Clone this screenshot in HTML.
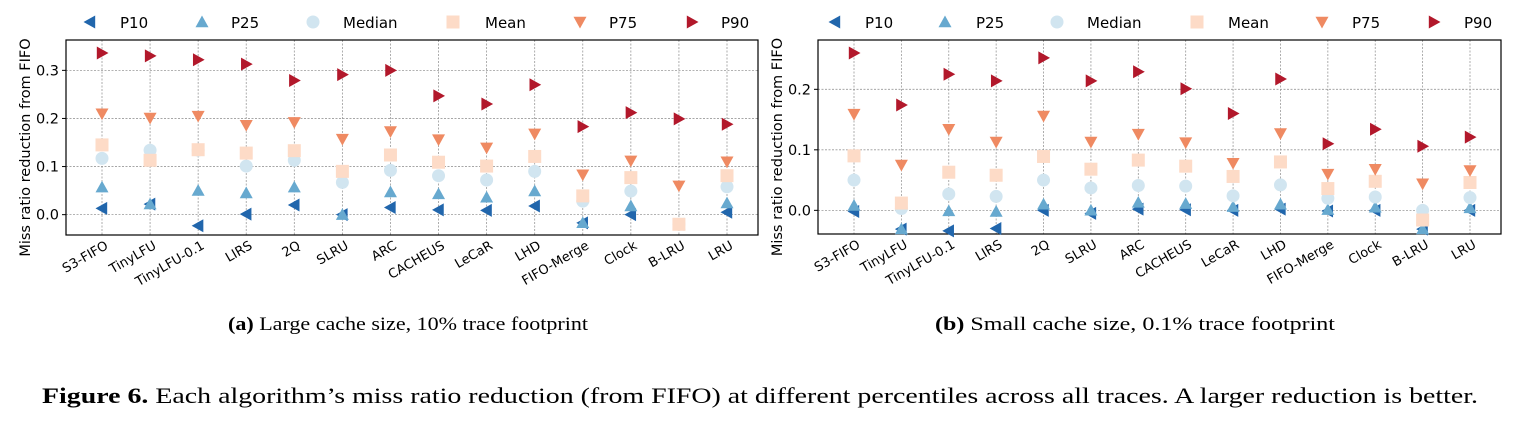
<!DOCTYPE html>
<html><head><meta charset="utf-8"><style>
body{margin:0;background:#fff;width:1524px;height:422px;overflow:hidden}
svg{display:block}
</style></head><body>
<svg id="fig" width="1524" height="422" xmlns="http://www.w3.org/2000/svg">
<text x="228" y="330" font-size="19" textLength="360" lengthAdjust="spacingAndGlyphs" font-family="Liberation Serif,serif"><tspan font-weight="bold">(a)</tspan> Large cache size, 10% trace footprint</text>
<text x="935" y="330" font-size="19" textLength="400" lengthAdjust="spacingAndGlyphs" font-family="Liberation Serif,serif"><tspan font-weight="bold">(b)</tspan> Small cache size, 0.1% trace footprint</text>
<text x="42" y="403" font-size="22" textLength="1436" lengthAdjust="spacingAndGlyphs" font-family="Liberation Serif,serif"><tspan font-weight="bold">Figure 6.</tspan> Each algorithm’s miss ratio reduction (from FIFO) at different percentiles across all traces. A larger reduction is better.</text>
</svg>
<script>
const categories=["S3-FIFO","TinyLFU","TinyLFU-0.1","LIRS","2Q","SLRU","ARC","CACHEUS","LeCaR","LHD","FIFO-Merge","Clock","B-LRU","LRU"];
const seriesNames=["P10","P25","Median","Mean","P75","P90"];
const aP10=[0.013,0.022,-0.023,0.001,0.020,0.000,0.015,0.010,0.009,0.018,-0.017,0.000,-0.020,0.005];
const aP25=[0.057,0.022,0.050,0.045,0.057,0.000,0.047,0.043,0.036,0.049,-0.017,0.018,-0.020,0.024];
const aMedian=[0.117,0.134,0.134,0.101,0.113,0.067,0.092,0.081,0.072,0.090,0.028,0.049,-0.020,0.058];
const aMean=[0.145,0.113,0.135,0.128,0.133,0.090,0.124,0.109,0.101,0.121,0.039,0.077,-0.020,0.081];
const aP75=[0.210,0.201,0.205,0.186,0.192,0.157,0.173,0.156,0.139,0.168,0.083,0.112,0.060,0.110];
const aP90=[0.336,0.330,0.322,0.313,0.279,0.291,0.300,0.247,0.230,0.270,0.183,0.212,0.199,0.188];
const bP10=[-0.002,-0.031,-0.034,-0.030,0.000,-0.005,0.002,0.001,0.000,0.002,-0.001,0.000,-0.031,0.000];
const bP25=[0.008,-0.031,-0.001,-0.002,0.010,0.000,0.013,0.011,0.006,0.010,0.001,0.005,-0.031,0.004];
const bMedian=[0.050,0.003,0.027,0.023,0.050,0.037,0.041,0.040,0.024,0.042,0.020,0.022,0.000,0.021];
const bMean=[0.090,0.012,0.063,0.058,0.089,0.068,0.083,0.073,0.056,0.080,0.036,0.048,-0.016,0.046];
const bP75=[0.159,0.075,0.134,0.113,0.156,0.113,0.126,0.112,0.078,0.127,0.060,0.068,0.044,0.066];
const bP90=[0.260,0.174,0.225,0.214,0.252,0.214,0.229,0.201,0.160,0.217,0.110,0.134,0.106,0.121];
const aTicks=[0.0,0.1,0.2,0.3];
const bTicks=[0.0,0.1,0.2];
const colors=["#2166ac","#67a9cf","#d1e5f0","#fddbc7","#ef8a62","#b2182b"];
const NS="http://www.w3.org/2000/svg";
const svg=document.getElementById('fig');
function mk(t,a,p){const e=document.createElementNS(NS,t);for(const k in a)e.setAttribute(k,a[k]);(p||svg).appendChild(e);return e;}
function marker(kind,x,y,c,g){
  const r=6.5;let e;
  if(kind===2){e=mk('circle',{cx:x,cy:y,r:r,fill:c},g);}
  else if(kind===3){e=mk('rect',{x:x-r,y:y-r,width:2*r,height:2*r,fill:c},g);}
  else{let p;
    if(kind===0)p=[[x-r,y],[x+r*0.8,y-r],[x+r*0.8,y+r]];
    if(kind===1)p=[[x,y-r],[x-r,y+r*0.8],[x+r,y+r*0.8]];
    if(kind===4)p=[[x,y+r],[x-r,y-r*0.8],[x+r,y-r*0.8]];
    if(kind===5)p=[[x+r,y],[x-r*0.8,y-r],[x-r*0.8,y+r]];
    e=mk('polygon',{points:p.map(q=>q.join(',')).join(' '),fill:c},g);}
  return e;
}
function chart(id,L,R,T,B,vmin,vmax,ticks,series,legX,legT){
  const g=mk('g',{});
  
  
  const x0=L+36,x1=R-31;
  const xs=i=>x0+(x1-x0)*i/(categories.length-1);
  const ys=v=>B-(v-vmin)/(vmax-vmin)*(B-T);
  categories.forEach((c,i)=>{
    const l=mk('line',{x1:xs(i),x2:xs(i),y1:T,y2:B,stroke:'#999','stroke-width':0.8,'stroke-dasharray':'2,1.5'},g);
    
    
    const t=mk('text',{x:xs(i)+7,y:B+13,'font-size':13,'font-family':'DejaVu Sans,sans-serif','text-anchor':'end',transform:`rotate(-30 ${xs(i)+7} ${B+13})`},g);
    t.textContent=c;
    
    
  });
  ticks.forEach(v=>{
    const l=mk('line',{x1:L,x2:R,y1:ys(v),y2:ys(v),stroke:'#999','stroke-width':0.8,'stroke-dasharray':'2,1.5'},g);
    
    
    mk('line',{x1:L-4,x2:L,y1:ys(v),y2:ys(v),stroke:'#000'},g);
    const t=mk('text',{x:L-7,y:ys(v)+5,'font-size':14.5,'font-family':'DejaVu Sans,sans-serif','text-anchor':'end'},g);
    t.textContent=v.toFixed(1);
    
    
  });
  const f=mk('rect',{x:L,y:T,width:R-L,height:B-T,fill:'none',stroke:'#000','stroke-width':1.2},g);
  
  
  const yl=mk('text',{x:L-36,y:(T+B)/2+10,'font-size':14.5,'font-family':'DejaVu Sans,sans-serif','text-anchor':'middle',transform:`rotate(-90 ${L-36} ${(T+B)/2+10})`},g);
  yl.textContent='Miss ratio reduction from FIFO';
  
  
  series.forEach((arr,s)=>{
    arr.forEach((v,i)=>{
      const m=marker(s,xs(i),ys(v),colors[s],g);
      
      
    });
    const lm=marker(s,legX[s],22,colors[s],g);
    
    
    const lt=mk('text',{x:legT[s],y:28,'font-size':15,'font-family':'DejaVu Sans,sans-serif'},g);
    lt.textContent=seriesNames[s];
    
    
  });
}
chart('chart-large-cache',66,758,40,235,-0.0423,0.3631,aTicks,[aP10,aP25,aMedian,aMean,aP75,aP90],[90,202,313,453,580,692],[120,231,343,485,609,721]);
chart('chart-small-cache',818,1501,40,234,-0.0391,0.2815,bTicks,[bP10,bP25,bMedian,bMean,bP75,bP90],[835,945,1057,1197,1322,1434],[865,976,1087,1228,1352,1464]);
</script>
</body></html>
